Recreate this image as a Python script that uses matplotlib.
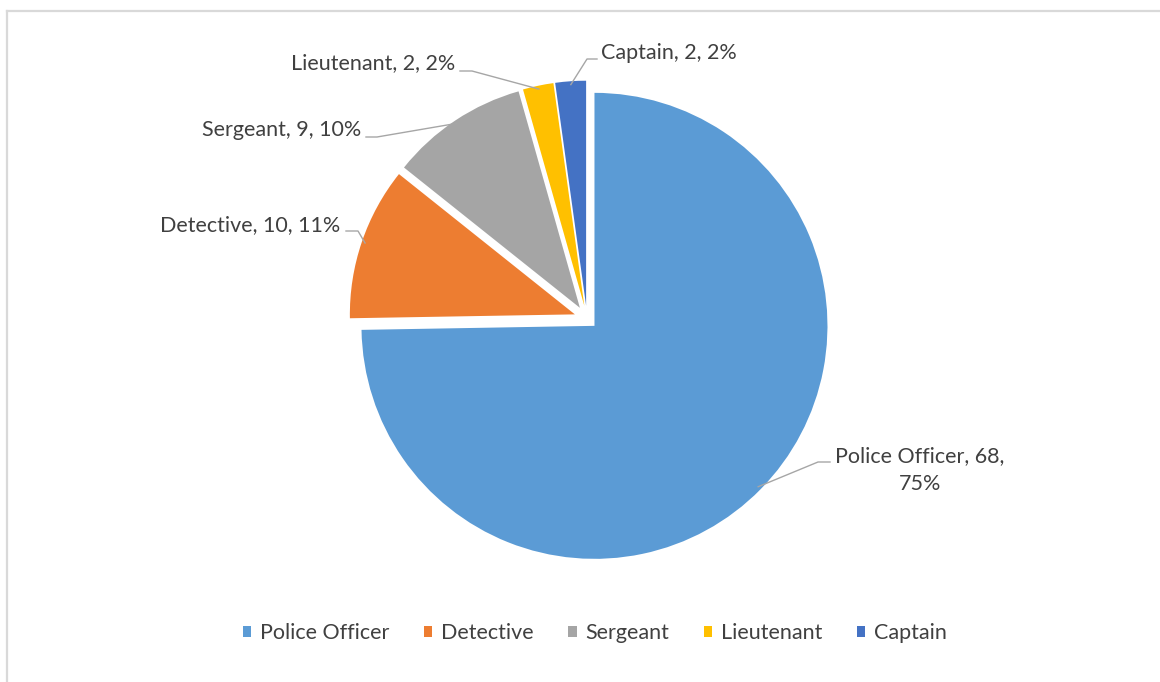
import numpy as np
import matplotlib
matplotlib.use("Agg")
import matplotlib.pyplot as plt
from matplotlib.lines import Line2D

# =========================
# 1. DONNÉES
# =========================
ranks = ["Police Officer", "Detective", "Sergeant", "Lieutenant", "Captain"]
counts = [68, 10, 9, 2, 2]
colors = ["#5B9BD5", "#ED7D31", "#A5A5A5", "#FFC000", "#4472C4"]
explode = [0.045, 0.055, 0.055, 0.055, 0.055]

plt.rcParams["font.family"] = ["Lato", "DejaVu Sans"]
TXT = "#404040"
FS = 15.5

# pie centre / radius in pixels (figure is 1160x682)
CX, CY, R = 587, 318.5, 233
R_SMALL = 225 / 233  # the small slices are drawn a bit smaller


def px(x, y):
    return ((x - CX) / R, (CY - y) / R)


# =========================
# 2. FIGURE
# =========================
fig = plt.figure(figsize=(11.6, 6.82), dpi=100)
ax = fig.add_axes([0, 0, 1, 1])

wedges, _ = ax.pie(counts, colors=colors, startangle=90, counterclock=False,
                   explode=explode, radius=1, wedgeprops=dict(linewidth=0))
for w in wedges[1:]:
    w.set_radius(R_SMALL)
ax.set_xlim(px(0, 0)[0], px(1160, 0)[0])
ax.set_ylim(px(0, 682)[1], px(0, 0)[1])
ax.set_aspect("auto")
ax.axis("off")

# chart frame (left + top only visible)
fig.add_artist(Line2D([7 / 1160, 7 / 1160], [0, 1 - 11 / 682], color="#D9D9D9", lw=1.6))
fig.add_artist(Line2D([7 / 1160, 1], [1 - 11 / 682, 1 - 11 / 682], color="#D9D9D9", lw=1.6))

# =========================
# 3. ÉTIQUETTES
# =========================
total = sum(counts)
# text position (px), alignment, elbow points (px)
layout = [
    ((920, 470), "center", [(830, 462), (818, 462)]),
    ((340, 225), "right", [(346, 231), (358, 231)]),
    ((361, 130), "right", [(366, 137), (377, 137)]),
    ((455, 63), "right", [(460, 71), (472, 71)]),
    ((601, 53), "left", [(597, 59), (587, 59)]),
]

for w, name, n, (tpos, ha, elbow) in zip(wedges, ranks, counts, layout):
    pct = round(100 * n / total)
    label = f"{name}, {n}, {pct}%"
    if name == "Police Officer":
        label = f"{name}, {n},\n{pct}%"
    tx, ty = px(*tpos)
    ax.text(tx, ty, label, ha=ha, va="center", fontsize=FS, color=TXT,
            linespacing=1.55, multialignment="center")
    mid = np.deg2rad((w.theta1 + w.theta2) / 2)
    ex = w.center[0] + 0.985 * w.r * np.cos(mid)
    ey = w.center[1] + 0.985 * w.r * np.sin(mid)
    pts = [px(*p) for p in elbow] + [(ex, ey)]
    ax.plot([p[0] for p in pts], [p[1] for p in pts], color="#A6A6A6", lw=1.0)

# =========================
# 4. LÉGENDE
# =========================
leg = fig.legend(wedges, ranks, loc="center", bbox_to_anchor=(0.513, 1 - 633 / 682),
                 ncol=5, frameon=False, fontsize=FS, handlelength=0.38,
                 handleheight=0.38, handletextpad=0.42, columnspacing=1.6)
for t in leg.get_texts():
    t.set_color(TXT)

fig.savefig("out.png", dpi=100, facecolor="white")
